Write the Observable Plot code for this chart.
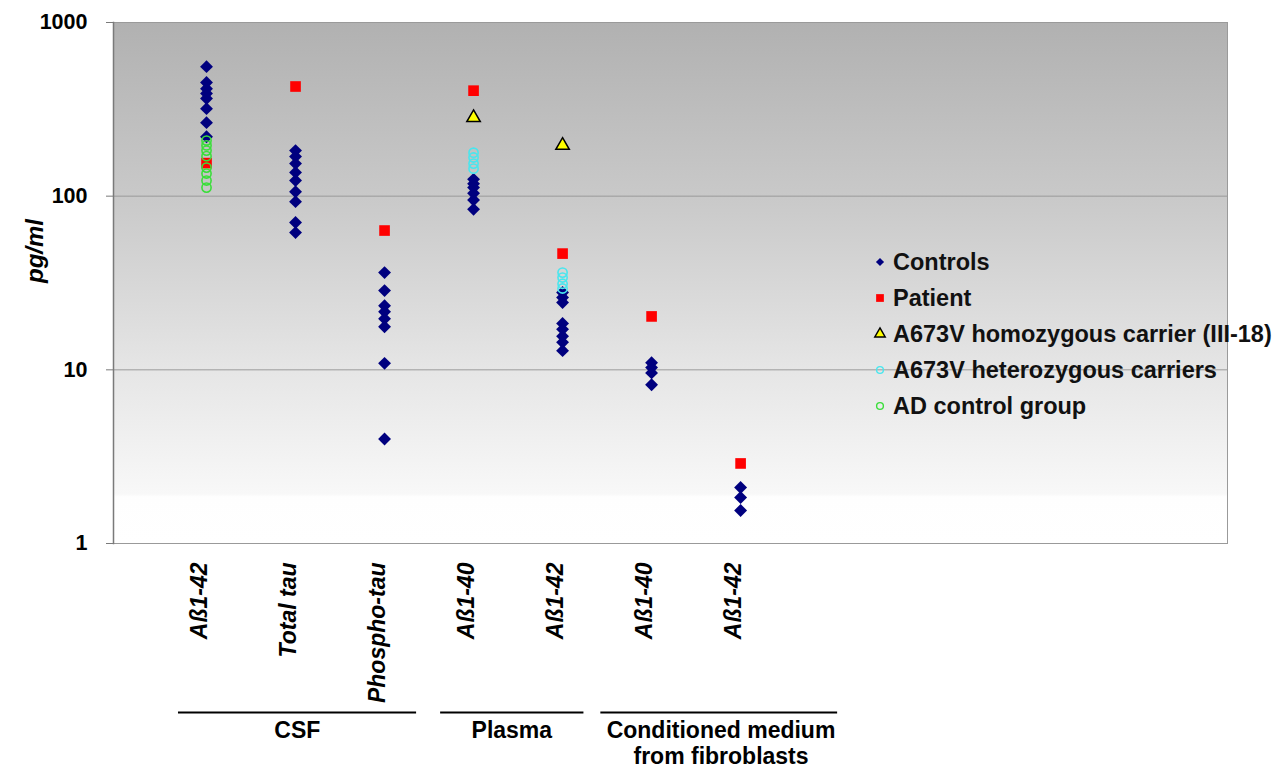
<!DOCTYPE html>
<html><head><meta charset="utf-8">
<script src="https://cdn.jsdelivr.net/npm/d3@7"></script>
<script src="https://cdn.jsdelivr.net/npm/@observablehq/plot@0.6"></script>
<style>
body{margin:0;background:#fff;font-family:"Liberation Sans",Arial,sans-serif;}
#wrap{position:relative;width:1282px;height:770px;}
#legend{position:absolute;left:870px;top:244px;}
.item{display:flex;align-items:center;height:36px;font-size:23.5px;font-weight:bold;color:#111;white-space:nowrap;}
.item svg{width:20px;height:20px;margin-right:3px;flex:none;}
</style></head><body><div id="wrap"></div>
<script>
// ---- data ----
const categories = ["Aß1-42", "Total tau", "Phospho-tau", "Aß1-40", "Aß1-42", "Aß1-40", "Aß1-42"];
const groupNames = ["CSF", "Plasma", "Conditioned medium\nfrom fibroblasts"];
const yTicks = [1, 10, 100, 1000];
const seriesNames = ["Controls", "Patient", "A673V homozygous carrier (III-18)", "A673V heterozygous carriers", "AD control group"];

const controls = [
  [557, 451, 416, 390, 365, 319, 265, 220],
  [183, 169, 154, 137, 123, 106, 93, 70.5, 61.7],
  [36.3, 28.6, 23.4, 21.6, 19.7, 17.7, 10.9, 4.0],
  [125, 118, 112, 104, 95, 84],
  [27.9, 26.1, 24.4, 18.5, 17.1, 15.6, 14.4, 12.9],
  [11.0, 10.3, 9.6, 8.2],
  [2.10, 1.84, 1.55]
];
const patient = [[155], [428], [63.4], [405], [46.7], [20.3], [2.89]];
const homozygous = [[], [], [], [283], [196], [], []];
const heterozygous = [[], [], [], [178, 167, 154, 144], [36.3, 34, 31.3, 29.4], [], []];
const adControls = [[209, 196, 183, 170, 146, 135, 123, 112], [], [], [], [], [], []];

// ---- layout (axis annotation placement, in category-index units) ----
const groupLayout = [
  {from: 0.685, to: 3.36, center: 2.02},
  {from: 3.63, to: 5.24, center: 4.43},
  {from: 5.43, to: 8.09, center: 6.78}
];
const groups = groupNames.map((name, i) => ({name, ...groupLayout[i]}));

const toRows = (arr, series) => arr.flatMap((vals, i) => vals.map(v => ({x: i + 1, y: v, series})));
const rowsControls = toRows(controls, seriesNames[0]);
const rowsPatient = toRows(patient, seriesNames[1]);
const rowsHomo = toRows(homozygous, seriesNames[2]);
const rowsHetero = toRows(heterozygous, seriesNames[3]);
const rowsAD = toRows(adControls, seriesNames[4]);
const xIdx = categories.map((_, i) => i + 1);

const colors = {navy: "#00007f", red: "#ff0000", yellow: "#ffff00", cyan: "#48e6ee", green: "#3ade3a"};

const chart = Plot.plot({
  width: 1282,
  height: 770,
  marginLeft: 113,
  marginRight: 55,
  marginTop: 22,
  marginBottom: 227,
  style: {fontFamily: "'Liberation Sans', Arial, sans-serif", color: "#000", background: "transparent"},
  x: {type: "linear", domain: [-0.045, 12.47], axis: null},
  y: {type: "log", domain: [1, 1000], axis: null},
  marks: [
    Plot.frame({fill: "url(#bggrad)", stroke: "#9a9a9a"}),
    Plot.ruleY([10, 100], {stroke: "#9a9a9a", strokeWidth: 1}),
    Plot.frame({anchor: "left", stroke: "#7a7a7a", strokeWidth: 1.5}),
    Plot.axisY({ticks: yTicks, tickFormat: d => String(d), tickSize: 7, tickPadding: 19,
      fontSize: 21.5, fontWeight: "bold", label: null, stroke: "#7a7a7a"}),
    Plot.text(["pg/ml"], {frameAnchor: "left", dx: -78, rotate: -90, fontSize: 24,
      fontWeight: "bold", fontStyle: "italic"}),
    Plot.dot(rowsControls, {x: "x", y: "y", symbol: "diamond2", r: 5.8, fill: colors.navy}),
    Plot.dot(rowsPatient, {x: "x", y: "y", symbol: "square", r: 6, fill: colors.red}),
    Plot.dot(rowsHomo, {x: "x", y: "y", symbol: "triangle", r: 5, fill: colors.yellow, stroke: "#000", strokeWidth: 1.5}),
    Plot.dot(rowsHetero, {x: "x", y: "y", symbol: "circle", r: 4.6, fill: "none", stroke: colors.cyan, strokeWidth: 1.6}),
    Plot.dot(rowsAD, {x: "x", y: "y", symbol: "circle", r: 4.6, fill: "none", stroke: colors.green, strokeWidth: 1.6}),
    Plot.text(xIdx, {x: d => d, text: d => categories[d - 1], frameAnchor: "bottom", rotate: -90,
      textAnchor: "end", dy: 19, fontSize: 23, fontWeight: "bold", fontStyle: "italic"}),
    Plot.ruleY(groups, {x1: "from", x2: "to", y: () => 1, dy: 169, stroke: "#000", strokeWidth: 2}),
    Plot.text(groups, {x: "center", text: "name", frameAnchor: "bottom", dy: 176, lineAnchor: "top",
      lineHeight: 1.12, fontSize: 23, fontWeight: "bold"})
  ]
});

// background gradient for the plot area
const defs = d3.select(chart).insert("defs", ":first-child");
const grad = defs.append("linearGradient").attr("id", "bggrad")
  .attr("x1", 0).attr("y1", 0).attr("x2", 0).attr("y2", 1);
[[0, "#b1b1b1"], [0.35, "#cacaca"], [0.67, "#e6e6e6"], [0.905, "#f8f8f8"], [0.91, "#fefefe"], [1, "#ffffff"]]
  .forEach(([o, c]) => grad.append("stop").attr("offset", o).attr("stop-color", c));

const wrap = document.getElementById("wrap");
wrap.appendChild(chart);

// legend
const legendSpec = [
  {name: seriesNames[0], type: d3.symbolDiamond2, size: 42, fill: colors.navy, stroke: "none"},
  {name: seriesNames[1], type: d3.symbolSquare, size: 60, fill: colors.red, stroke: "none"},
  {name: seriesNames[2], type: d3.symbolTriangle, size: 48, fill: colors.yellow, stroke: "#000"},
  {name: seriesNames[3], type: d3.symbolCircle, size: 36, fill: "none", stroke: colors.cyan},
  {name: seriesNames[4], type: d3.symbolCircle, size: 36, fill: "none", stroke: colors.green}
];
const legend = d3.select(wrap).append("div").attr("id", "legend");
legendSpec.forEach(s => {
  const item = legend.append("div").attr("class", "item");
  const sv = item.append("svg").attr("viewBox", "-10 -10 20 20");
  sv.append("path").attr("d", d3.symbol(s.type, s.size)()).attr("fill", s.fill)
    .attr("stroke", s.stroke).attr("stroke-width", 1.4);
  item.append("span").text(s.name);
});
</script></body></html>
